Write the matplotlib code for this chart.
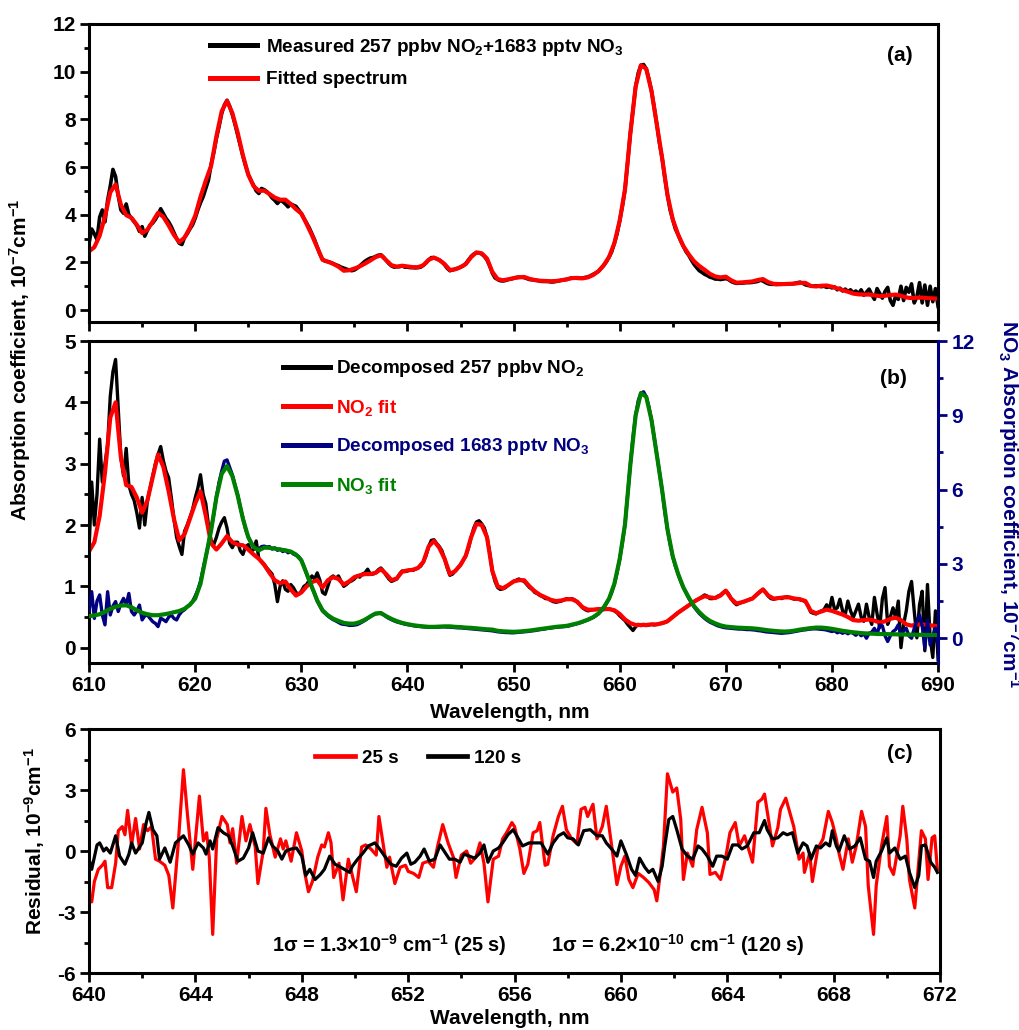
import numpy as np
import matplotlib
matplotlib.use('Agg')
import matplotlib.pyplot as plt
from matplotlib.lines import Line2D
from matplotlib.ticker import MultipleLocator

plt.rcParams['font.family'] = ['Liberation Sans', 'DejaVu Sans']
plt.rcParams['font.weight'] = 'bold'
plt.rcParams['mathtext.fontset'] = 'custom'
plt.rcParams['mathtext.rm'] = 'Liberation Sans:bold'
plt.rcParams['mathtext.it'] = 'Liberation Sans:bold'
plt.rcParams['mathtext.bf'] = 'Liberation Sans:bold'
plt.rcParams['mathtext.default'] = 'rm'
plt.rcParams['axes.unicode_minus'] = False

# ---------------- data: fitted spectra (0.5 nm grid, 610-690 nm) ----------------
wl_fit = np.linspace(610, 690, 161)
no2_fit = [
    1.57, 1.72, 2.15, 2.85, 3.75, 4.0, 3.1, 2.65, 2.62, 2.45,
    2.2, 2.4, 2.78, 3.15, 2.95, 2.55, 2.1, 1.75, 1.85, 2.1,
    2.35, 2.55, 2.15, 1.7, 1.6, 1.7, 1.82, 1.72, 1.68, 1.67,
    1.6, 1.52, 1.45, 1.35, 1.22, 1.1, 1.05, 1.08, 0.95, 0.85,
    0.9, 1.0, 1.07, 1.1, 0.98, 1.1, 1.15, 1.12, 1.03, 1.08,
    1.15, 1.18, 1.2, 1.2, 1.22, 1.28, 1.2, 1.1, 1.13, 1.24,
    1.26, 1.27, 1.3, 1.4, 1.65, 1.74, 1.63, 1.45, 1.2, 1.25,
    1.35, 1.5, 1.8, 2.02, 2.0, 1.8, 1.25, 1.0, 0.97, 1.02,
    1.08, 1.1, 1.1, 1.0, 0.92, 0.86, 0.82, 0.78, 0.76, 0.77,
    0.79, 0.79, 0.75, 0.66, 0.62, 0.62, 0.63, 0.63, 0.63, 0.61,
    0.55, 0.46, 0.4, 0.37, 0.37, 0.37, 0.38, 0.38, 0.4, 0.43,
    0.5, 0.57, 0.63, 0.69, 0.75, 0.8, 0.84, 0.82, 0.81, 0.85,
    0.93, 0.8, 0.72, 0.74, 0.77, 0.8, 0.88, 0.95, 0.85, 0.8,
    0.81, 0.82, 0.82, 0.8, 0.79, 0.76, 0.6, 0.56, 0.59, 0.62,
    0.6, 0.57, 0.54, 0.5, 0.45, 0.44, 0.45, 0.46, 0.44, 0.41,
    0.43, 0.47, 0.49, 0.45, 0.38, 0.36, 0.38, 0.38, 0.37, 0.36,
    0.35]
no3_fit = [
    0.89, 0.92, 0.97, 1.07, 1.19, 1.27, 1.32, 1.33, 1.25, 1.13,
    1.03, 0.97, 0.93, 0.93, 0.96, 1.0, 1.05, 1.1, 1.19, 1.35,
    1.6, 2.2, 3.28, 4.35, 5.69, 6.64, 6.95, 6.55, 5.77, 4.82,
    4.08, 3.68, 3.55, 3.66, 3.65, 3.62, 3.58, 3.55, 3.5, 3.38,
    3.15, 2.61, 2.07, 1.53, 1.13, 0.93, 0.79, 0.7, 0.62, 0.59,
    0.59, 0.65, 0.75, 0.88, 1.0, 1.02, 0.89, 0.78, 0.69, 0.62,
    0.57, 0.53, 0.5, 0.48, 0.46, 0.46, 0.47, 0.48, 0.48, 0.46,
    0.45, 0.43, 0.42, 0.4, 0.38, 0.36, 0.35, 0.3, 0.28, 0.27,
    0.26, 0.27, 0.29, 0.31, 0.34, 0.37, 0.4, 0.43, 0.46, 0.48,
    0.5, 0.55, 0.6, 0.67, 0.75, 0.85, 1.0, 1.25, 1.6, 2.2,
    3.2, 4.6, 7.0, 9.0, 9.9, 9.75, 8.8, 7.4, 5.97, 4.4,
    3.3, 2.6, 2.05, 1.65, 1.3, 1.05, 0.85, 0.7, 0.6, 0.52,
    0.47, 0.45, 0.43, 0.42, 0.41, 0.4, 0.38, 0.35, 0.32, 0.3,
    0.28, 0.27, 0.28, 0.31, 0.35, 0.38, 0.41, 0.43, 0.43, 0.41,
    0.38, 0.34, 0.3, 0.27, 0.24, 0.22, 0.2, 0.19, 0.18, 0.17,
    0.17, 0.16, 0.16, 0.15, 0.15, 0.14, 0.14, 0.14, 0.13, 0.13,
    0.13]

# ---------------- data: measured spectra (0.25 nm grid, 610-690 nm) ----------------
wl_meas = np.linspace(610, 690, 321)
total_meas = [
    2.8, 3.4, 3.2, 2.95, 3.9, 4.2, 3.7, 4.6,
    5.2, 5.9, 5.6, 4.8, 4.2, 4.06, 4.45, 4.0,
    3.85, 3.7, 3.55, 3.3, 3.5, 3.1, 3.35, 3.57,
    3.65, 3.8, 4.0, 4.25, 4.05, 3.85, 3.7, 3.5,
    3.25, 3.0, 2.8, 2.75, 3.05, 3.2, 3.4, 3.57,
    3.85, 4.2, 4.5, 4.75, 5.1, 5.45, 6.1, 6.6,
    7.2, 7.7, 8.25, 8.6, 8.8, 8.55, 8.2, 7.8,
    7.35, 6.9, 6.45, 6.05, 5.7, 5.45, 5.24, 5.0,
    4.89, 5.1, 5.05, 4.97, 4.85, 4.7, 4.6, 4.47,
    4.6, 4.55, 4.45, 4.33, 4.45, 4.4, 4.35, 4.2,
    4.05, 3.85, 3.65, 3.45, 3.2, 2.95, 2.65, 2.35,
    2.12, 2.05, 2.03, 2.0, 1.95, 1.9, 1.86, 1.8,
    1.76, 1.72, 1.68, 1.65, 1.68, 1.75, 1.85, 1.95,
    2.05, 2.12, 2.18, 2.2, 2.25, 2.3, 2.32, 2.22,
    2.08, 1.95, 1.85, 1.8, 1.82, 1.82, 1.85, 1.8,
    1.8, 1.78, 1.78, 1.77, 1.78, 1.8, 1.88, 1.98,
    2.1, 2.2, 2.2, 2.15, 2.1, 2.02, 1.9, 1.75,
    1.65, 1.68, 1.72, 1.75, 1.8, 1.85, 1.95, 2.1,
    2.25, 2.35, 2.4, 2.4, 2.35, 2.25, 2.1, 1.85,
    1.55, 1.35, 1.28, 1.23, 1.22, 1.24, 1.28, 1.3,
    1.33, 1.37, 1.38, 1.38, 1.36, 1.32, 1.28, 1.27,
    1.25, 1.24, 1.21, 1.2, 1.2, 1.2, 1.18, 1.18,
    1.2, 1.22, 1.25, 1.27, 1.28, 1.32, 1.35, 1.35,
    1.33, 1.33, 1.34, 1.37, 1.39, 1.44, 1.5, 1.56,
    1.63, 1.75, 1.88, 2.03, 2.23, 2.45, 2.81, 3.2,
    3.75, 4.35, 5.06, 6.2, 7.4, 8.4, 9.37, 9.95,
    10.27, 10.3, 10.12, 9.7, 9.18, 8.5, 7.78, 7.0,
    6.37, 5.55, 4.83, 4.2, 3.8, 3.4, 3.17, 2.9,
    2.68, 2.45, 2.3, 2.1, 1.92, 1.78, 1.65, 1.58,
    1.5, 1.45, 1.38, 1.35, 1.3, 1.3, 1.28, 1.3,
    1.32, 1.28, 1.2, 1.15, 1.12, 1.13, 1.13, 1.14,
    1.15, 1.15, 1.16, 1.18, 1.2, 1.25, 1.22, 1.15,
    1.1, 1.08, 1.08, 1.07, 1.08, 1.08, 1.09, 1.1,
    1.1, 1.1, 1.12, 1.15, 1.17, 1.12, 1.06, 1.03,
    1.02, 1.0, 1.02, 1.0, 0.98, 1.0, 0.95, 0.98,
    0.93, 0.97, 0.85, 0.92, 0.8, 0.88, 0.78, 0.85,
    0.72, 0.8, 0.68, 0.85, 0.62, 0.75, 0.88, 0.65,
    0.45, 0.9, 0.7, 0.5, 0.78, 0.95, 0.4, 0.2,
    0.6, 0.45, 1.0, 0.4, 0.95, 0.75, 1.1, 0.3,
    0.55, 1.15, 0.3, 1.05, 0.2, 1.0, 0.35, 0.9,
    0.15]
no2_meas = [
    1.6, 2.7, 2.0, 2.5, 3.4, 2.7, 3.0, 3.3,
    4.1, 4.5, 4.7, 3.9, 3.1, 2.8, 3.25, 2.65,
    2.5, 2.4, 2.2, 1.95, 2.45, 2.0, 2.4, 2.6,
    2.8, 3.0, 3.15, 3.28, 3.05, 2.88, 2.77, 2.45,
    2.1, 1.8, 1.65, 1.52, 1.9, 2.0, 2.12, 2.25,
    2.44, 2.6, 2.82, 2.5, 2.35, 2.0, 1.75, 1.68,
    1.8, 1.95, 2.05, 2.12, 1.95, 1.7, 1.63, 1.72,
    1.72, 1.58, 1.52, 1.65, 1.68, 1.57, 1.6, 1.74,
    1.45, 1.41, 1.36, 1.3, 1.25, 1.2, 1.03, 0.75,
    1.0, 1.09, 0.95, 0.92, 1.03, 0.98, 0.9, 0.87,
    0.92, 1.0, 1.03, 1.1, 1.17, 1.12, 1.22, 1.1,
    0.9, 0.87, 1.0, 1.14, 1.17, 1.13, 1.17, 1.08,
    1.0, 1.03, 1.07, 1.09, 1.12, 1.17, 1.15, 1.2,
    1.22, 1.28, 1.2, 1.2, 1.22, 1.27, 1.3, 1.25,
    1.18, 1.12, 1.08, 1.1, 1.12, 1.2, 1.25, 1.24,
    1.25, 1.27, 1.26, 1.28, 1.3, 1.33, 1.4, 1.5,
    1.65, 1.75, 1.76, 1.7, 1.65, 1.58, 1.45, 1.3,
    1.18, 1.2, 1.25, 1.3, 1.35, 1.42, 1.5, 1.62,
    1.8, 1.95, 2.05, 2.07, 2.02, 1.95, 1.8, 1.55,
    1.25, 1.08, 0.98, 0.95, 0.96, 0.98, 1.02, 1.05,
    1.08, 1.1, 1.12, 1.1, 1.08, 1.03, 0.98, 0.95,
    0.9, 0.88, 0.85, 0.83, 0.8, 0.8, 0.77, 0.75,
    0.74, 0.75, 0.76, 0.78, 0.8, 0.79, 0.8, 0.78,
    0.74, 0.7, 0.65, 0.62, 0.6, 0.61, 0.62, 0.62,
    0.63, 0.62, 0.62, 0.63, 0.63, 0.62, 0.6, 0.57,
    0.52, 0.48, 0.44, 0.38, 0.33, 0.28, 0.34, 0.38,
    0.36, 0.38, 0.36, 0.37, 0.38, 0.37, 0.38, 0.39,
    0.4, 0.41, 0.43, 0.47, 0.5, 0.54, 0.57, 0.6,
    0.63, 0.66, 0.69, 0.72, 0.75, 0.78, 0.8, 0.83,
    0.86, 0.84, 0.8, 0.8, 0.81, 0.84, 0.86, 0.9,
    0.93, 0.88, 0.8, 0.74, 0.7, 0.72, 0.74, 0.75,
    0.77, 0.79, 0.8, 0.84, 0.88, 0.92, 0.95, 0.9,
    0.84, 0.8, 0.79, 0.8, 0.81, 0.8, 0.82, 0.83,
    0.82, 0.8, 0.79, 0.8, 0.78, 0.77, 0.75, 0.68,
    0.58, 0.56, 0.55, 0.58, 0.6, 0.62, 0.7, 0.62,
    0.82, 0.62, 0.65, 0.79, 0.6, 0.54, 0.76, 0.6,
    0.49, 0.6, 0.71, 0.5, 0.43, 0.71, 0.5, 0.38,
    0.82, 0.55, 0.33, 0.8, 0.98, 0.38, 0.5, 0.65,
    0.49, 0.76, 0.0, 0.38, 0.6, 0.92, 1.08, 0.6,
    0.16, 0.7, 0.92, -0.05, 1.03, 0.16, -0.16, 0.6,
    -0.2]
no3_meas = [
    1.1, 1.88, 0.8, 1.5, 1.75, 0.94, 0.54, 1.88,
    0.94, 1.3, 1.48, 1.08, 1.4, 1.61, 1.34, 1.81,
    1.08, 0.94, 1.1, 1.34, 0.74, 0.9, 0.94, 0.8,
    0.67, 0.6, 0.47, 0.81, 0.75, 0.67, 0.85, 0.94,
    0.8, 0.74, 0.95, 1.08, 1.15, 1.28, 1.35, 1.48,
    1.7, 1.95, 2.3, 2.8, 3.3, 3.8, 4.4, 5.0,
    5.7, 6.3, 6.75, 7.15, 7.2, 6.9, 6.6, 6.2,
    5.8, 5.3, 4.85, 4.4, 4.1, 3.85, 3.7, 3.6,
    3.6, 3.7, 3.72, 3.68, 3.7, 3.6, 3.65, 3.55,
    3.6, 3.5, 3.55, 3.45, 3.5, 3.4, 3.35, 3.3,
    3.15, 2.9, 2.6, 2.3, 2.05, 1.8, 1.5, 1.3,
    1.1, 1.0, 0.9, 0.82, 0.75, 0.7, 0.64, 0.58,
    0.56, 0.55, 0.52, 0.52, 0.53, 0.55, 0.6, 0.66,
    0.72, 0.8, 0.87, 0.95, 0.98, 1.0, 1.0, 0.95,
    0.87, 0.8, 0.75, 0.7, 0.66, 0.63, 0.6, 0.57,
    0.55, 0.53, 0.51, 0.49, 0.48, 0.47, 0.46, 0.45,
    0.44, 0.44, 0.44, 0.45, 0.45, 0.46, 0.46, 0.45,
    0.45, 0.44, 0.43, 0.42, 0.42, 0.41, 0.4, 0.39,
    0.38, 0.37, 0.36, 0.35, 0.34, 0.33, 0.32, 0.31,
    0.3, 0.28, 0.26, 0.25, 0.24, 0.23, 0.23, 0.22,
    0.22, 0.23, 0.24, 0.25, 0.26, 0.27, 0.28, 0.3,
    0.31, 0.33, 0.35, 0.36, 0.38, 0.4, 0.41, 0.43,
    0.44, 0.45, 0.46, 0.47, 0.48, 0.5, 0.53, 0.56,
    0.59, 0.62, 0.66, 0.7, 0.74, 0.79, 0.84, 0.91,
    0.99, 1.1, 1.24, 1.4, 1.6, 1.85, 2.2, 2.65,
    3.2, 3.85, 4.6, 5.8, 7.0, 8.1, 9.0, 9.6,
    9.9, 9.95, 9.75, 9.35, 8.8, 8.1, 7.4, 6.7,
    5.97, 5.1, 4.4, 3.8, 3.3, 2.9, 2.6, 2.3,
    2.05, 1.83, 1.62, 1.44, 1.27, 1.13, 1.0, 0.9,
    0.8, 0.72, 0.65, 0.6, 0.55, 0.5, 0.47, 0.44,
    0.42, 0.41, 0.4, 0.39, 0.38, 0.37, 0.37, 0.36,
    0.35, 0.35, 0.34, 0.33, 0.31, 0.3, 0.28, 0.26,
    0.25, 0.24, 0.23, 0.22, 0.21, 0.2, 0.21, 0.22,
    0.23, 0.25, 0.27, 0.29, 0.31, 0.33, 0.34, 0.36,
    0.37, 0.38, 0.38, 0.37, 0.36, 0.35, 0.33, 0.3,
    0.27, 0.3, 0.22, 0.26, 0.2, 0.25, 0.18, 0.24,
    0.2, 0.12, 0.22, 0.1, 0.18, 0.0, 0.2, 0.25,
    0.4, 0.15, 0.54, 0.5, 0.1, -0.13, 0.1, 0.27,
    0.35, 0.54, 0.13, 0.3, 0.4, 0.1, 0.0, 0.4,
    0.67, 0.94, 0.5, -0.4, 0.74, -0.27, 0.1, 0.4,
    -0.3]

# ---------------- data: residuals (panel c) ----------------
res25_wl = [
    640.0, 640.1, 640.2, 640.35, 640.5, 640.6, 640.7, 640.85, 641.0, 641.1,
    641.25, 641.35, 641.45, 641.6, 641.75, 641.9, 642.05, 642.2, 642.35, 642.5,
    642.65, 642.85, 643.0, 643.15, 643.35, 643.55, 643.7, 643.9, 644.15, 644.3,
    644.42, 644.52, 644.65, 644.8, 645.0, 645.2, 645.3, 645.4, 645.55, 645.75,
    645.9, 646.05, 646.25, 646.35, 646.55, 646.65, 646.8, 647.0, 647.2, 647.3,
    647.4, 647.6, 647.8, 648.0, 648.1, 648.25, 648.4, 648.6, 648.75, 648.85,
    649.0, 649.1, 649.2, 649.4, 649.55, 649.75, 649.9, 650.05, 650.25, 650.4,
    650.6, 650.8, 650.9, 651.1, 651.2, 651.3, 651.5, 651.7, 651.9, 652.0,
    652.2, 652.4, 652.55, 652.75, 652.95, 653.1, 653.3, 653.5, 653.7, 653.8,
    654.0, 654.2, 654.35, 654.55, 654.7, 654.85, 655.0, 655.2, 655.4, 655.55,
    655.7, 655.9, 656.0, 656.2, 656.35, 656.5, 656.7, 656.85, 656.95, 657.15,
    657.25, 657.45, 657.65, 657.8, 657.95, 658.15, 658.35, 658.5, 658.65, 658.75,
    658.95, 659.1, 659.3, 659.45, 659.6, 659.7, 659.85, 660.0, 660.15, 660.3,
    660.45, 660.65, 660.85, 661.05, 661.25, 661.35, 661.5, 661.6, 661.75, 661.85,
    661.95, 662.1, 662.25, 662.35, 662.5, 662.7, 662.85, 663.05, 663.25, 663.35,
    663.55, 663.75, 663.95, 664.1, 664.3, 664.45, 664.65, 664.8, 664.95, 665.15,
    665.3, 665.4, 665.55, 665.7, 665.9, 666.0, 666.2, 666.35, 666.5, 666.7,
    666.85, 666.9, 667.1, 667.2, 667.4, 667.6, 667.8, 667.95, 668.1, 668.2,
    668.35, 668.55, 668.7, 668.85, 669.05, 669.2, 669.3, 669.5, 669.6, 669.8,
    670.0, 670.1, 670.25, 670.35, 670.5, 670.6, 670.75, 670.85, 671.05, 671.2,
    671.3, 671.45, 671.55, 671.7, 671.8, 671.9]
res25_val = [
    -2.3, -2.5, -1.5, -0.9, -0.7, -0.5, -1.8, -1.8, -0.6, 1.0,
    1.2, 0.8, 2.0, 0.3, 1.6, 0.1, 1.3, 1.0, 1.2, -0.4,
    -0.5, -0.7, -1.2, -2.8, 0.3, 4.0, 1.8, -0.9, 2.7, 0.5,
    0.9, -0.3, -4.1, 0.6, 1.7, 1.3, 0.4, 1.1, -0.6, 1.7,
    0.5, 1.3, 0.2, -1.6, 0.0, 2.1, 0.8, -0.3, 0.6, 0.1,
    0.5, -0.5, 0.9, 0.0, -1.0, -2.0, -1.5, -0.3, 0.3, 0.2,
    0.9, 0.4, -1.3, -0.6, -2.4, -0.4, -1.2, -2.0, 0.2, 0.3,
    0.1, -0.2, 1.7, 0.0, -0.8, -0.3, -1.6, -0.8, -0.7, -1.0,
    -1.1, -1.3, -0.6, -0.5, -0.8, 0.2, 1.3, 0.4, -0.3, -1.3,
    -0.2, 0.0, -0.6, -0.3, 0.4, -0.6, -2.5, -0.4, -0.25, 0.6,
    0.9, 1.4, 1.2, 0.1, -1.1, -0.65, 0.9, 1.0, 1.4, -0.7,
    -0.65, 0.75, 1.7, 2.2, 1.05, 0.6, 0.35, 2.05, 2.15, 1.7,
    2.3, 0.6, 1.2, 2.2, 0.75, -0.25, -1.65, -0.75, -0.25, -1.4,
    -1.8, -1.1, -1.3, -1.55, -1.9, -2.45, -0.9, 0.25, 3.8, 3.35,
    2.9, 3.1, 1.55, -1.4, -0.1, -0.75, 1.05, 2.15, 0.9, -1.15,
    -1.05, -1.4, -0.25, 0.9, 1.4, 0.25, 0.75, 0.1, -0.55, 2.4,
    2.55, 2.8, 1.55, 0.25, 1.15, 2.05, 2.6, 1.9, 1.2, -0.4,
    -0.1, -1.05, -0.1, -1.5, 0.1, 0.6, 1.95, 1.4, 0.6, -0.1,
    -0.9, 0.6, -0.55, 0.25, 1.95, 1.2, -1.7, -4.1, -1.7, 0.25,
    1.7, -0.75, -1.15, -0.4, 0.75, 2.2, 0.6, -1.4, -2.8, -0.55,
    1.0, 0.6, -1.4, 0.65, 0.75, -0.9]

res120_wl = [
    640.0, 640.1, 640.3, 640.4, 640.55, 640.65, 640.8, 641.0, 641.15, 641.35,
    641.5, 641.6, 641.75, 642.0, 642.15, 642.25, 642.4, 642.55, 642.65, 642.85,
    643.05, 643.25, 643.55, 643.75, 643.9, 644.1, 644.3, 644.4, 644.55, 644.65,
    644.85, 645.05, 645.25, 645.4, 645.6, 645.8, 646.0, 646.15, 646.35, 646.55,
    646.75, 646.9, 647.1, 647.25, 647.4, 647.6, 647.8, 648.0, 648.15, 648.3,
    648.5, 648.7, 648.85, 649.05, 649.25, 649.4, 649.6, 649.8, 649.9, 650.1,
    650.3, 650.5, 650.75, 650.9, 651.2, 651.35, 651.55, 651.75, 651.95, 652.1,
    652.25, 652.45, 652.6, 652.8, 653.0, 653.2, 653.35, 653.55, 653.75, 653.95,
    654.1, 654.3, 654.5, 654.7, 654.85, 655.0, 655.2, 655.4, 655.55, 655.75,
    655.95, 656.15, 656.3, 656.55, 656.8, 657.0, 657.25, 657.45, 657.65, 657.85,
    658.0, 658.2, 658.4, 658.6, 658.85, 659.1, 659.3, 659.45, 659.65, 659.85,
    660.0, 660.2, 660.4, 660.55, 660.7, 660.9, 661.05, 661.2, 661.4, 661.55,
    661.65, 661.8, 661.95, 662.1, 662.3, 662.5, 662.7, 662.9, 663.05, 663.25,
    663.45, 663.6, 663.8, 664.0, 664.2, 664.4, 664.55, 664.75, 665.0, 665.2,
    665.4, 665.5, 665.7, 665.9, 666.1, 666.25, 666.45, 666.65, 666.85, 667.0,
    667.15, 667.35, 667.5, 667.7, 667.85, 667.95, 668.1, 668.2, 668.4, 668.6,
    668.8, 669.0, 669.2, 669.35, 669.5, 669.6, 669.8, 670.0, 670.1, 670.3,
    670.5, 670.7, 670.85, 671.05, 671.2, 671.3, 671.45, 671.65, 671.8, 671.9]
res120_val = [
    -0.4, -0.9, 0.3, 0.4, 0.0, 0.15, -0.1, 0.75, -0.25, -0.65,
    -0.15, 0.4, -0.1, 0.4, 1.4, 1.9, 1.05, 0.75, -0.4, 0.15,
    -0.55, 0.4, 0.75, 0.3, -0.15, 0.4, 0.15, -0.15, 0.5, 0.1,
    1.15, 0.9, 0.75, 0.25, -0.5, -0.35, 0.15, 0.9, 0.0, -0.1,
    0.65, 0.25, 0.0, -0.4, 0.0, 0.1, 0.15, -0.25, -1.2, -0.9,
    -1.4, -1.15, -0.9, -0.25, -0.65, -0.75, -0.9, -1.05, -0.75, -0.4,
    -0.1, 0.25, 0.4, 0.15, -0.4, -0.65, -0.75, -0.35, -0.1, -0.65,
    -0.55, -0.25, 0.1, -0.5, -0.4, 0.3, 0.0, -0.4, -0.4, -0.55,
    -0.15, -0.25, -0.35, -0.1, 0.3, -0.55, 0.0, 0.15, 0.4, 0.8,
    1.05, 0.6, 0.25, 0.4, 0.4, 0.4, -0.15, 0.4, 0.75, 0.9,
    0.65, 0.6, 0.3, 1.0, 1.05, 0.75, 0.75, 0.4, 0.1, -0.25,
    0.5, -0.15, -0.9, -1.2, -0.35, -0.8, -1.05, -0.9, -1.5, -0.75,
    0.25, 1.55, 1.7, 1.05, 0.1, -0.25, -0.4, 0.25, 0.1, -0.25,
    -0.75, -0.25, -0.25, -0.4, 0.3, 0.3, 0.1, 0.25, 0.9, 0.9,
    1.5, 1.05, 0.6, 0.65, 0.9, 0.8, 0.9, -0.1, 0.4, 0.25,
    -0.4, 0.25, 0.15, 0.4, 0.25, 1.0, 0.25, 0.0, 0.75, 0.1,
    0.25, 0.65, -0.4, -0.5, -1.3, -0.5, 0.0, 0.65, -0.1, 0.15,
    -0.4, -0.25, -1.05, -1.8, -1.2, 0.25, 0.3, -0.55, -0.8, -1.05]

# ---------------- text ----------------
legend_a = ['Measured 257 ppbv NO$_2$+1683 pptv NO$_3$', 'Fitted spectrum']
legend_b = ['Decomposed 257 ppbv NO$_2$', 'NO$_2$ fit',
            'Decomposed 1683 pptv NO$_3$', 'NO$_3$ fit']
legend_c = ['25 s', '120 s']
panel_tags = ['(a)', '(b)', '(c)']
sigma_texts = ['1\u03c3 = 1.3\u00d710$^{-9}$ cm$^{-1}$ (25 s)',
               '1\u03c3 = 6.2\u00d710$^{-10}$ cm$^{-1}$ (120 s)']

NAVY = '#000080'
GREEN = '#008000'
RED = '#ff0000'
FS = 15      # tick labels / axis labels
LFS = 13.6   # legends

fig = plt.figure(figsize=(10.2, 10.3), dpi=100)
axa = fig.add_axes([0.0873, 0.6874, 0.8324, 0.2893])
axb = fig.add_axes([0.0873, 0.3563, 0.8324, 0.3126])
axc = fig.add_axes([0.0873, 0.0553, 0.8343, 0.2369])


def style(ax):
    for s in ax.spines.values():
        s.set_linewidth(2.2)
    ax.tick_params(which='major', direction='out', length=6.5, width=2.0,
                   labelsize=FS, pad=3)
    ax.tick_params(which='minor', direction='out', length=3.5, width=2.0)
    ax.tick_params(which='both', top=False, right=False)


# ---- panel (a)
fit_total = np.array(no2_fit) + np.array(no3_fit)
axa.plot(wl_meas, total_meas, color='black', lw=2.6)
axa.plot(wl_fit, fit_total, color=RED, lw=3.0)
axa.set_xlim(610, 690)
axa.set_ylim(-0.5, 12)
axa.xaxis.set_major_locator(MultipleLocator(10))
axa.xaxis.set_minor_locator(MultipleLocator(5))
axa.yaxis.set_major_locator(MultipleLocator(2))
axa.yaxis.set_minor_locator(MultipleLocator(1))
style(axa)
axa.tick_params(labelbottom=False)
ha = [Line2D([], [], color='black', lw=3.6), Line2D([], [], color=RED, lw=3.6)]
axa.legend(ha, legend_a, loc='upper left', bbox_to_anchor=(0.1425, 0.958),
           frameon=False, fontsize=LFS, handlelength=2.5, handletextpad=0.45,
           labelspacing=0.72, borderpad=0, borderaxespad=0)
axa.text(0.955, 0.895, panel_tags[0], transform=axa.transAxes, ha='center',
         va='center', fontsize=FS)

# ---- panel (b)
axb.plot(wl_meas, no2_meas, color='black', lw=2.4)
axb.plot(wl_fit, no2_fit, color=RED, lw=3.0)
axb.set_xlim(610, 690)
axb.set_ylim(-0.25, 5)
axb.xaxis.set_major_locator(MultipleLocator(10))
axb.xaxis.set_minor_locator(MultipleLocator(5))
axb.yaxis.set_major_locator(MultipleLocator(1))
axb.yaxis.set_minor_locator(MultipleLocator(0.5))
style(axb)
axb.spines['right'].set_visible(False)

ax2 = axb.twinx()
ax2.plot(wl_meas, no3_meas, color=NAVY, lw=2.4)
ax2.plot(wl_fit, no3_fit, color=GREEN, lw=3.0)
ax2.set_ylim(-1, 12)
ax2.yaxis.set_major_locator(MultipleLocator(3))
ax2.yaxis.set_minor_locator(MultipleLocator(1.5))
for k in ['left', 'top', 'bottom']:
    ax2.spines[k].set_visible(False)
ax2.spines['right'].set_linewidth(2.2)
ax2.spines['right'].set_color(NAVY)
ax2.tick_params(which='major', direction='out', length=6.5, width=2.0,
                labelsize=FS, pad=3, colors=NAVY)
ax2.tick_params(which='minor', direction='out', length=3.5, width=2.0, colors=NAVY)

hb = [Line2D([], [], color='black', lw=3.6), Line2D([], [], color=RED, lw=3.6),
      Line2D([], [], color=NAVY, lw=3.6), Line2D([], [], color=GREEN, lw=3.6)]
legb = ax2.legend(hb, legend_b, loc='upper left', bbox_to_anchor=(0.2285, 0.946),
                  frameon=False, fontsize=LFS, handlelength=2.5, handletextpad=0.3,
                  labelspacing=0.98, borderpad=0, borderaxespad=0)
for t, c in zip(legb.get_texts(), ['black', RED, NAVY, GREEN]):
    t.set_color(c)
ax2.text(0.947, 0.885, panel_tags[1], transform=axb.transAxes, ha='center',
         va='center', fontsize=FS)

# ---- panel (c)
axc.plot(res25_wl, res25_val, color=RED, lw=2.3)
axc.plot(res120_wl, res120_val, color='black', lw=2.3)
axc.set_xlim(640, 672)
axc.set_ylim(-6, 6)
axc.xaxis.set_major_locator(MultipleLocator(4))
axc.xaxis.set_minor_locator(MultipleLocator(2))
axc.yaxis.set_major_locator(MultipleLocator(3))
axc.yaxis.set_minor_locator(MultipleLocator(1.5))
style(axc)
hc = [Line2D([], [], color=RED, lw=3.4), Line2D([], [], color='black', lw=3.4)]
axc.legend(hc, legend_c, loc='upper left', bbox_to_anchor=(0.2656, 0.915), ncol=2,
           frameon=False, fontsize=LFS, handlelength=2.1, handletextpad=0.37,
           columnspacing=1.55, borderpad=0, borderaxespad=0)
axc.text(0.953, 0.90, panel_tags[2], transform=axc.transAxes, ha='center',
         va='center', fontsize=FS)
axc.text(0.215, 0.115, sigma_texts[0], transform=axc.transAxes, ha='left',
         va='center', fontsize=14.3)
axc.text(0.543, 0.115, sigma_texts[1], transform=axc.transAxes, ha='left',
         va='center', fontsize=14.3)

# ---- axis labels
fig.text(0.0196, 0.651, 'Absorption coefficient, 10$^{-7}$cm$^{-1}$', rotation=90,
         ha='center', va='center', fontsize=FS)
fig.text(0.989, 0.5107, 'NO$_3$ Absorption coefficient, 10$^{-7}$cm$^{-1}$',
         rotation=270, ha='center', va='center', fontsize=FS, color=NAVY)
fig.text(0.5, 0.3087, 'Wavelength, nm', ha='center', va='center', fontsize=FS)
fig.text(0.034, 0.1835, 'Residual, 10$^{-9}$cm$^{-1}$', rotation=90,
         ha='center', va='center', fontsize=FS)
fig.text(0.5, 0.0107, 'Wavelength, nm', ha='center', va='center', fontsize=FS)

fig.savefig('out.png', dpi=100)
